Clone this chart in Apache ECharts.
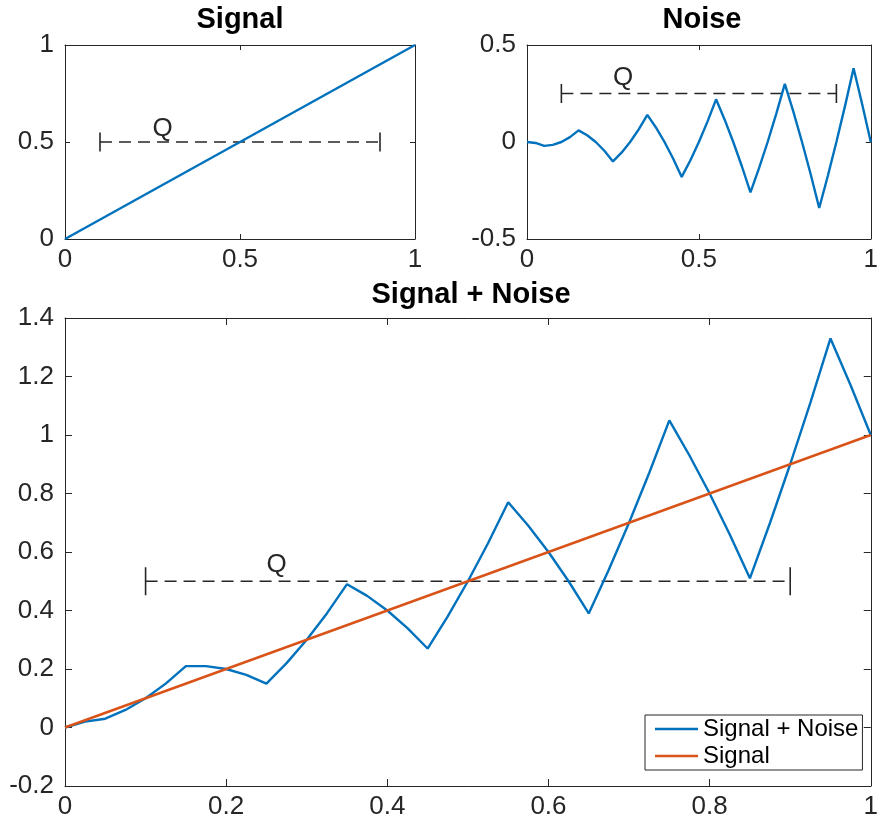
<!DOCTYPE html>
<html>
<head>
<meta charset="utf-8">
<script src="https://cdn.jsdelivr.net/npm/echarts@6/dist/echarts.min.js"></script>
<style>
  html, body { margin: 0; padding: 0; background: #fff; }
  #chart { width: 881px; height: 821px; }
</style>
</head>
<body>
<div id="chart"></div>
<script>
const blue = '#0072BD';
const orange = '#D95319';
const ink = '#262626';
const font = '"Liberation Sans", Arial, sans-serif';

// signal: straight ramp
const signalX = [0, 1];
const signalY = [0, 1];

// noise
const noiseX = [0, 0.025, 0.05, 0.075, 0.1, 0.125, 0.15, 0.175, 0.2, 0.225, 0.25, 0.275, 0.3, 0.325, 0.35, 0.375, 0.4,
  0.425, 0.45, 0.475, 0.5, 0.525, 0.55, 0.575, 0.6, 0.625, 0.65, 0.675, 0.7, 0.725, 0.75, 0.775, 0.8,
  0.825, 0.85, 0.875, 0.9, 0.925, 0.95, 0.975, 1];
const noiseY = [0, -0.005, -0.02, -0.015, 0, 0.025, 0.06, 0.035, 0, -0.045, -0.1, -0.055, 0, 0.065, 0.14, 0.075, 0,
  -0.085, -0.18, -0.095, 0, 0.105, 0.22, 0.115, 0, -0.125, -0.26, -0.135, 0, 0.145, 0.3, 0.155, 0,
  -0.165, -0.34, -0.175, 0, 0.185, 0.38, 0.195, 0];

// signal + noise (same x as noise)
const sumY = [0, 0.02, 0.03, 0.06, 0.1, 0.15, 0.21, 0.21, 0.2, 0.18, 0.15, 0.22, 0.3, 0.39, 0.49, 0.45, 0.4,
  0.34, 0.27, 0.38, 0.5, 0.63, 0.77, 0.69, 0.6, 0.5, 0.39, 0.54, 0.7, 0.87, 1.05, 0.93, 0.8,
  0.66, 0.51, 0.7, 0.9, 1.11, 1.33, 1.17, 1];

// the "Q" span markers
const qSpanX = [0.1, 0.9];
const qLevel = [0.5, 0.25, 0.5];
const qLabelAt = [[0.25, 0.57], [0.25, 0.33], [0.25, 0.555]];

const titles = ['Signal', 'Noise', 'Signal + Noise'];
const legendNames = ['Signal + Noise', 'Signal'];

const zip = (xs, ys) => xs.map((x, i) => [x, ys[i]]);

const grids = [
  { left: 65, top: 45, width: 350, height: 194 },
  { left: 527, top: 45, width: 350, height: 194 },
  { left: 65, top: 318, width: 812, height: 468 },
];

const xAxes = [];
const yAxes = [];

function axis(grid, pos, range, interval, tickLen, showLabel) {
  const isX = pos === 'bottom' || pos === 'top';
  return {
    type: 'value',
    gridIndex: grid,
    position: pos,
    min: range[0],
    max: range[1],
    interval: interval,
    axisLine: { show: true, onZero: false, lineStyle: { color: ink, width: 1 } },
    axisTick: { show: true, inside: true, length: tickLen, lineStyle: { color: ink, width: 1 } },
    axisLabel: {
      show: showLabel,
      color: ink,
      fontSize: 26,
      fontFamily: font,
      margin: isX ? 8 : 11,
    },
    splitLine: { show: false },
  };
}

function addAxes(grid, xr, xi, yr, yi, tickLen) {
  xAxes.push(axis(grid, 'bottom', xr, xi, tickLen, true));
  xAxes.push(axis(grid, 'top', xr, xi, tickLen, false));
  yAxes.push(axis(grid, 'left', yr, yi, tickLen, true));
  yAxes.push(axis(grid, 'right', yr, yi, tickLen, false));
}

addAxes(0, [0, 1], 0.5, [0, 1], 0.5, 5);
addAxes(1, [0, 1], 0.5, [-0.5, 0.5], 0.5, 5);
addAxes(2, [0, 1], 0.2, [-0.2, 1.4], 0.2, 7);

function qSeries(i, capSize) {
  const ax = i * 2;
  return [
    {
      type: 'line',
      xAxisIndex: ax,
      yAxisIndex: ax,
      data: zip(qSpanX, [qLevel[i], qLevel[i]]),
      symbol: 'rect',
      symbolSize: [1.6, capSize],
      showSymbol: true,
      lineStyle: { color: ink, width: 1.5, type: [12, 7], opacity: 1 },
      itemStyle: { color: ink, opacity: 1 },
      silent: true,
      z: 3,
    },
    {
      type: 'scatter',
      xAxisIndex: ax,
      yAxisIndex: ax,
      data: [qLabelAt[i]],
      symbolSize: 1,
      itemStyle: { color: 'rgba(0,0,0,0)', opacity: 1 },
      label: {
        show: true,
        formatter: 'Q',
        position: 'inside',
        align: 'left',
        verticalAlign: 'middle',
        color: ink,
        opacity: 1,
        fontSize: 26,
        fontFamily: font,
      },
      silent: true,
    },
  ];
}

const titleCenters = [240, 702, 471];
const titleTops = [5, 5, 280];

const option = {
  backgroundColor: '#fff',
  animation: false,
  title: titles.map((t, i) => ({
    text: t,
    left: titleCenters[i],
    top: titleTops[i],
    textAlign: 'center',
    padding: 0,
    textStyle: { color: '#000', fontSize: 29, fontWeight: 'bold', fontFamily: font },
  })),
  legend: {
    data: legendNames,
    orient: 'vertical',
    left: 645,
    top: 715,
    padding: [2, 4, 2, 10],
    icon: 'rect',
    itemWidth: 43,
    itemHeight: 2.4,
    itemGap: 3,
    selectedMode: false,
    backgroundColor: '#fff',
    borderColor: ink,
    borderWidth: 1,
    borderRadius: 0,
    textStyle: { color: '#000', fontSize: 24, fontFamily: font },
  },
  grid: grids,
  xAxis: xAxes,
  yAxis: yAxes,
  series: [
    {
      name: 'signal-top',
      type: 'line',
      xAxisIndex: 0,
      yAxisIndex: 0,
      data: zip(signalX, signalY),
      symbol: 'none',
      lineStyle: { color: blue, width: 2.4 },
      z: 4,
    },
    ...qSeries(0, 19),
    {
      name: 'noise',
      type: 'line',
      xAxisIndex: 2,
      yAxisIndex: 2,
      data: zip(noiseX, noiseY),
      symbol: 'none',
      lineStyle: { color: blue, width: 2.4 },
      z: 4,
    },
    ...qSeries(1, 19),
    ...qSeries(2, 28),
    {
      name: 'Signal + Noise',
      type: 'line',
      xAxisIndex: 4,
      yAxisIndex: 4,
      data: zip(noiseX, sumY),
      symbol: 'none',
      color: blue,
      lineStyle: { color: blue, width: 2.4 },
      z: 4,
    },
    {
      name: 'Signal',
      type: 'line',
      xAxisIndex: 4,
      yAxisIndex: 4,
      data: zip(signalX, signalY),
      symbol: 'none',
      color: orange,
      lineStyle: { color: orange, width: 2.4 },
      z: 5,
    },
  ],
};

const chart = echarts.init(document.getElementById('chart'));
chart.setOption(option);
</script>
</body>
</html>
